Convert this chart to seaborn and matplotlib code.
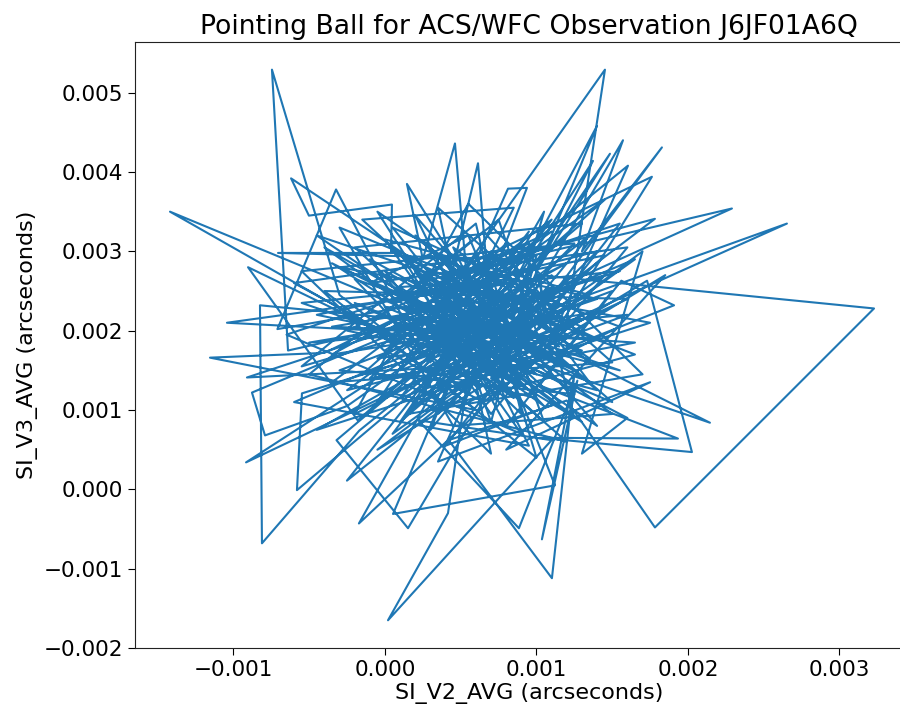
import numpy as np
import pandas as pd
import matplotlib
matplotlib.use("Agg")
import matplotlib.pyplot as plt
import seaborn as sns

# Pointing jitter samples, in units of 1e-3 arcseconds
v2_milli = [
    0.42, -1.419, 0.10, -0.30, -0.746, -0.64, 0.65, -0.620, -0.502, 0.046,
    0.04, 1.19, 1.452, 0.376, -0.71, -0.323, 0.23, -0.904, -0.18, 0.85,
    -1.043, -0.05, 0.60, -1.155, -0.40, 0.88, -0.706, 0.10, 0.55, -0.911,
    0.35, -0.878, -0.792, -0.25, 0.75, -0.917, -0.30, 0.90, -0.825, -0.812,
    -0.17, 1.10, -0.581, -0.548, 0.45, -0.251, 0.40, 1.30, -0.172, 0.21,
    0.70, 0.053, 1.122, 0.80, 0.152, -0.32, 0.60, 0.416, 0.020, 1.10,
    0.22, 0.884, 1.27, 1.036, 1.25, 1.102, 0.42, 1.20, 1.782, 3.228,
    1.02, 1.05, 2.653, 0.89, 0.20, 2.290, 0.89, 1.35, 2.145, 0.89,
    1.73, 2.026, 1.02, 1.934, 1.02, 1.56, 1.908, 0.70, 1.828, 1.30,
    1.571, 0.85, 1.399, 0.60, 1.782, 0.40, 1.762, 1.10, 1.604, 0.55,
    0.462, 0.25, 0.145, 0.70, 0.614, 0.30, 0.812, 0.937, 0.45, 1.373,
    1.00, 1.485, 0.65, -0.35, 0.95, 0.15, 1.30, -0.10, 0.80, 0.35,
    1.45, -0.45, 0.70, 0.05, 1.15, 0.50, -0.20, 1.55, 0.25, 0.90,
    0.60, -0.55, 1.25, 0.40, 0.95, 0.10, 1.60, -0.15, 0.75, 0.30,
    1.35, 0.55, -0.40, 1.05, 0.20, 0.85, 0.45, 1.20, -0.25, 0.65,
    1.50, 0.00, 0.95, 0.35, 1.10, -0.60, 0.75, 0.50, 1.40, 0.15,
    0.80, -0.30, 1.25, 0.40, 0.70, 1.00, 0.05, 1.65, 0.55, -0.10,
    1.15, 0.35, 0.90, 0.20, 1.45, 0.60, -0.50, 1.05, 0.45, 0.85,
    0.10, 1.30, 0.65, -0.20, 1.00, 0.30, 1.55, 0.50, 0.75, 0.20,
    1.20, -0.05, 0.95, 0.40, 0.70, 1.35, 0.00, 0.60, 1.10, 0.30,
    0.80, 0.55, 1.40, -0.35, 0.90, 0.25, 0.65, 1.15, 0.45, 0.85,
    0.10, 0.70, 0.35, 1.75, 0.80, 1.85, -0.05, 1.70, 1.30, 1.60,
    0.55, 0.95,
    -0.45, 1.40, 0.20, 0.95, -0.60, 1.65, 0.05, 1.10, -0.35, 1.50,
    0.35, 0.70, -0.55, 1.25, 0.15, 1.70, 0.55, -0.20, 1.35, 0.00,
    0.90, -0.65, 1.55, 0.40, 1.15, -0.15, 0.85, 0.25, 1.60, -0.40,
    1.00, 0.60, -0.05, 1.45, 0.30, 1.20, -0.50, 0.75, 1.05, 0.10,
    1.50, 0.45, -0.30, 1.30, 0.65, 0.00, 1.10, 0.35, 1.75, -0.45,
    0.80, 0.20, 1.40, 0.50, -0.25, 0.95, 1.25, 0.15, 0.70, 1.60,
    -0.10, 0.55, 1.00, 0.35, 1.45, -0.35, 0.85, 0.10, 1.20, 0.60,
    -0.05, 1.35, 0.40, 0.90, 0.20, 1.55, -0.55, 0.75, 1.05, 0.30,
    1.65, 0.50, -0.15, 1.15, 0.65, 0.05, 1.40, 0.45, 0.95, -0.30,
    1.25, 0.25, 0.80, 1.50, 0.10, 0.70, 1.05, -0.20, 1.30, 0.40,
]
v3_milli = [
    2.05, 3.50, 1.85, 2.45, 5.29, 1.75, 2.30, 3.92, 3.45, 3.59,
    3.00, 2.00, 5.29, 2.38, 2.02, 3.78, 1.75, 2.80, 0.87, 2.60,
    2.10, 2.00, 1.00, 1.66, 1.72, 2.90, 2.98, 2.98, 1.55, 1.41,
    2.20, 1.22, 0.68, 1.05, 2.40, 0.34, 0.90, 2.00, 2.32, -0.68,
    0.74, 2.70, -0.01, 1.21, 1.80, 0.11, 1.10, 2.20, -0.43, 0.87,
    2.60, -0.31, 0.05, 1.60, -0.49, 0.62, 2.10, -0.30, -1.65, 0.62,
    0.87, -0.49, 1.37, -0.63, 1.45, -1.12, 0.62, 1.12, -0.48, 2.28,
    2.70, 2.25, 3.35, 1.84, 2.60, 3.54, 2.33, 1.60, 0.84, 1.66,
    2.63, 0.47, 0.65, 0.64, 1.31, 2.63, 2.32, 1.40, 4.31, 3.00,
    4.40, 2.05, 4.58, 1.70, 3.41, 2.70, 3.94, 1.90, 4.08, 2.45,
    4.36, 2.90, 3.85, 2.15, 4.11, 1.60, 3.79, 3.80, 1.40, 4.14,
    2.75, 4.23, 1.90, 2.85, 1.25, 2.40, 1.75, 1.40, 3.10, 0.95,
    2.95, 2.20, 1.75, 3.30, 2.35, 1.25, 2.65, 1.50, 2.15, 0.95,
    3.35, 1.55, 2.55, 1.65, 3.25, 1.15, 2.20, 1.90, 2.85, 0.75,
    3.20, 2.00, 3.05, 1.05, 2.75, 1.45, 3.05, 1.95, 1.25, 2.50,
    1.10, 2.30, 2.15, 1.30, 3.05, 2.60, 1.20, 2.80, 2.40, 1.60,
    2.30, 1.50, 1.20, 2.50, 0.85, 2.95, 2.05, 1.85, 1.45, 2.90,
    1.60, 2.35, 1.75, 1.05, 2.70, 2.20, 1.85, 2.10, 1.85, 2.65,
    2.55, 0.85, 1.60, 2.35, 1.45, 2.95, 2.05, 1.05, 2.05, 1.80,
    2.85, 1.65, 1.90, 2.20, 3.00, 1.35, 2.75, 1.30, 2.55, 1.55,
    1.95, 2.65, 1.90, 2.05, 2.45, 1.35, 2.35, 1.80, 2.40, 1.15,
    2.20, 1.85, 0.35, 1.35, 0.50, 2.70, 0.50, 3.00, 0.45, 0.90,
    1.95, 2.30,
    3.20, 0.80, 3.45, 0.55, 1.10, 2.90, 0.70, 3.40, 1.35, 1.60,
    3.55, 0.45, 2.75, 3.10, 0.95, 1.45, 3.60, 0.95, 2.45, 3.15,
    0.70, 1.95, 3.35, 0.55, 1.10, 3.40, 3.55, 1.20, 2.40, 2.50,
    0.40, 2.95, 1.10, 3.65, 2.10, 0.60, 1.45, 3.40, 1.70, 2.95,
    0.95, 0.80, 3.30, 2.05, 1.10, 1.75, 3.25, 2.60, 2.10, 0.75,
    2.10, 3.20, 1.25, 1.70, 2.00, 3.10, 0.90, 2.45, 0.95, 3.05,
    2.60, 3.20, 1.15, 1.45, 2.25, 1.70, 2.95, 0.85, 2.65, 1.55,
    3.50, 1.65, 2.85, 1.30, 1.95, 2.75, 2.35, 1.50, 3.50, 1.00,
    1.70, 2.55, 1.45, 2.20, 3.25, 2.35, 3.00, 1.20, 2.35, 2.80,
    1.50, 2.70, 0.80, 2.50, 1.50, 2.70, 0.85, 3.05, 3.35, 1.90,
]

df = pd.DataFrame({
    "SI_V2_AVG": np.array(v2_milli) / 1000.0,
    "SI_V3_AVG": np.array(v3_milli) / 1000.0,
})

sns.set_style("ticks")
plt.rcParams["font.family"] = ["DejaVu Sans"]
plt.rcParams["text.color"] = "black"
plt.rcParams["axes.labelcolor"] = "black"
plt.rcParams["xtick.color"] = "black"
plt.rcParams["ytick.color"] = "black"

fig = plt.figure(figsize=(9.0, 7.04), dpi=100)
ax = fig.add_axes([0.15, 0.0795, 0.875, 0.861])

sns.lineplot(data=df, x="SI_V2_AVG", y="SI_V3_AVG", sort=False, estimator=None,
             color="#1f77b4", linewidth=1.5, ax=ax)

ax.set_xlim(-0.00165, 0.003548)
ax.set_ylim(-0.002, 0.00564)

ax.set_title("Pointing Ball for ACS/WFC Observation J6JF01A6Q", fontsize=19.2,
             color="black")
ax.set_xlabel("SI_V2_AVG (arcseconds)", fontsize=16, labelpad=2)
ax.set_ylabel("SI_V3_AVG (arcseconds)", fontsize=16)
ax.tick_params(axis="both", labelsize=15.5, length=5, colors="black")
for s in ax.spines.values():
    s.set_color("#222222")

fig.savefig("out.png", dpi=100)
